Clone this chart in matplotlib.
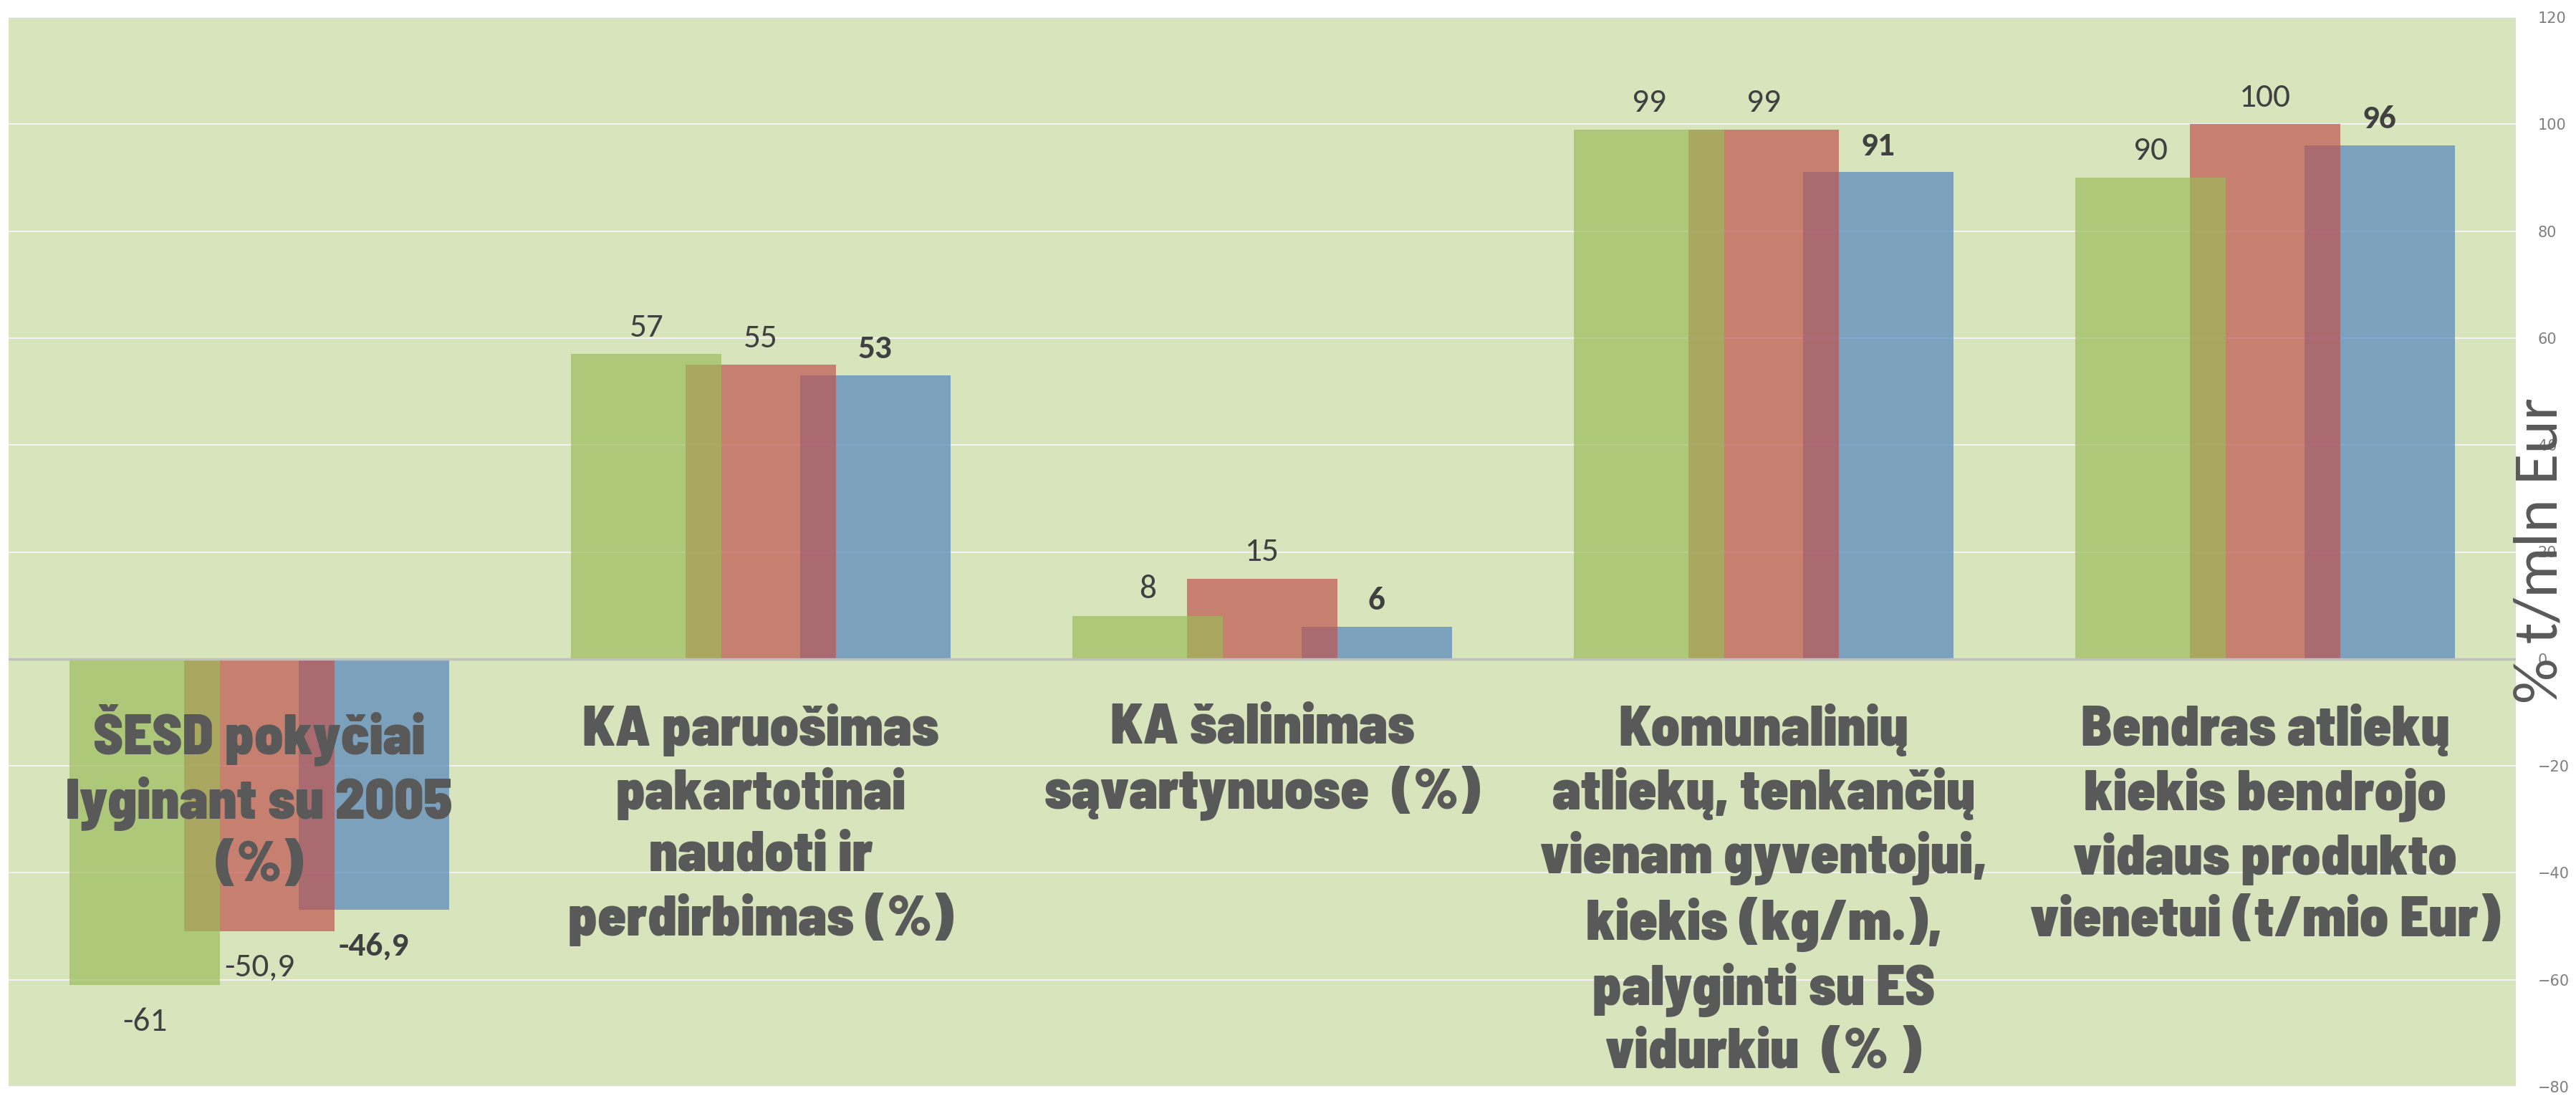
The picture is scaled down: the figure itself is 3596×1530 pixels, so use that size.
import numpy as np
import matplotlib.pyplot as plt

categories = [
    "ŠESD pokyčiai\nlyginant su 2005\n(%)",
    "KA paruošimas\npakartotinai\nnaudoti ir\nperdirbimas (%)",
    "KA šalinimas\nsąvartynuose  (%)",
    "Komunalinių\natliekų, tenkančių\nvienam gyventojui,\nkiekis (kg/m.),\npalyginti su ES\nvidurkiu  (% )",
    "Bendras atliekų\nkiekis bendrojo\nvidaus produkto\nvienetui (t/mio Eur)",
]
green_vals = [-61, 57, 8, 99, 90]
red_vals = [-50.9, 55, 15, 99, 100]
blue_vals = [-46.9, 53, 6, 91, 96]
yticks = list(range(-80, 121, 20))

num_font = ["Carlito", "Lato"]
cat_font = ["Barlow Semi Condensed", "Lato"]

fig = plt.figure(figsize=(35.96, 15.30), dpi=100)
ax = fig.add_axes([12 / 3596, 13 / 1530, 3500 / 3596, 1493 / 1530])
ax.set_facecolor("#D8E4BC")

x = np.arange(len(categories))
w = 0.30
off = 0.228
alpha = 0.68

# blue at the bottom, red over it, green on top
ax.bar(x + off, blue_vals, w, color="#4F81BD", alpha=alpha, zorder=3)
ax.bar(x, red_vals, w, color="#C0504D", alpha=alpha, zorder=4)
ax.bar(x - off, green_vals, w, color="#9BBB59", alpha=alpha, zorder=5)

def fmt(v):
    return f"{v:g}".replace(".", ",")

def label(xs, vals, bold):
    for xi, v in zip(xs, vals):
        up = v >= 0
        ax.annotate(fmt(v), (xi, v), xytext=(0, 12 if up else -22), textcoords="offset points",
                    ha="center", va="bottom" if up else "top", fontsize=34, color="#404040",
                    family=num_font, fontweight="bold" if bold else "normal", zorder=8)

label(x - off, green_vals, False)
label(x, red_vals, False)
label(x + off, blue_vals, True)

for xi, c in zip(x, categories):
    ax.text(xi, -8.3, c, ha="center", va="top", fontsize=57, color="#595959",
            family=cat_font, fontweight=900, linespacing=1.26, zorder=9,
            multialignment="center")

ax.set_xlim(-0.5, len(categories) - 0.5)
ax.set_ylim(-80, 120)
ax.set_xticks([])
ax.set_yticks(yticks)
ax.yaxis.tick_right()
ax.tick_params(axis="y", length=0, pad=22, labelsize=15, labelcolor="#7F7F7F")
ax.grid(axis="y", color="#F2F2F2", linewidth=1.5, zorder=1)
ax.set_axisbelow(True)
ax.axhline(0, color="#BFBFBF", linewidth=2.5, zorder=6)
for s in ax.spines.values():
    s.set_visible(False)

fig.text(3547 / 3596, 1 - 768 / 1530, "% t/mln Eur", rotation=90, ha="center", va="center",
         fontsize=64, color="#595959", family=num_font)

fig.savefig("out.png", dpi=100, facecolor="white")
